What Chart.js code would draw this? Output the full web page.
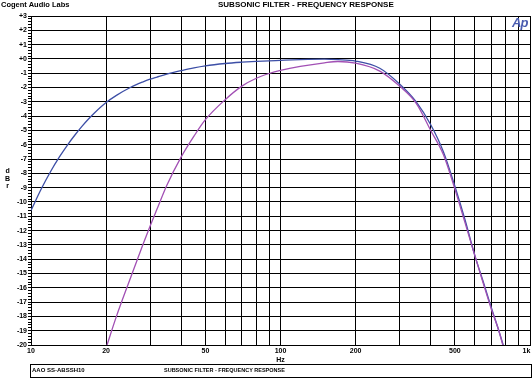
<!DOCTYPE html>
<html>
<head>
<meta charset="utf-8">
<script src="https://cdn.jsdelivr.net/npm/chart.js@4"></script>
<style>
  body { margin: 0; background: #fff; }
  #wrap { position: relative; width: 532px; height: 378px; overflow: hidden; font-family: 'Liberation Sans', Arial, sans-serif; font-weight: bold; color: #000; }
  #myChart { position: absolute; left: 0; top: 0; }
  .txt { position: absolute; white-space: nowrap; }
  #brand { left: 1px; top: 0px; font-size: 7.5px; }
  #title { left: 218px; top: 0px; font-size: 8px; }
  #logo { left: 512px; top: 15px; font-size: 13px; font-style: italic; color: #4a5cb0; letter-spacing: -1px; }
  #dbr { left: 5px; top: 167px; font-size: 7px; line-height: 7.5px; text-align: center; }
  #foot { position: absolute; left: 30px; top: 364px; width: 502px; height: 14px; border: 1px solid #000; box-sizing: border-box; }
  #foot .l { left: 1px; top: 2px; font-size: 6px; }
  #foot .m { left: 133px; top: 2px; font-size: 5.5px; }
</style>
</head>
<body>
<div id="wrap">
  <canvas id="myChart" width="532" height="378"></canvas>
  <div class="txt" id="brand">Cogent Audio Labs</div>
  <div class="txt" id="title">SUBSONIC FILTER - FREQUENCY RESPONSE</div>
  <div class="txt" id="logo">Ap</div>
  <div class="txt" id="dbr">d<br>B<br>r</div>
  <div id="foot">
    <div class="txt l">AAO SS-ABSSH10</div>
    <div class="txt m">SUBSONIC FILTER - FREQUENCY RESPONSE</div>
  </div>
</div>
<script>
const ctx = document.getElementById("myChart").getContext("2d");

// frequencies (Hz)
const freqHz = [10, 11, 12, 13, 14, 15, 16, 17, 18, 20, 22, 25, 28, 30, 32, 35, 40, 45, 50, 60, 70, 80, 100, 120, 150, 170, 200, 250, 300, 350, 400, 450, 500, 550, 600, 650, 700, 750, 800];

// blue trace (dBr)
const blueDb = [-10.6, -9.08, -7.85, -6.85, -6.02, -5.32, -4.72, -4.2, -3.76, -3.05, -2.55, -2.0, -1.62, -1.42, -1.27, -1.07, -0.82, -0.62, -0.48, -0.32, -0.23, -0.17, -0.1, -0.05, -0.02, -0.05, -0.15, -0.65, -1.75, -3.0, -4.6, -6.5, -8.9, -11.3, -13.7, -15.6, -17.4, -19.0, -20.6];

// magenta trace (dBr), starts at 20 Hz
const magentaHz = [20, 22, 25, 28, 30, 32, 35, 40, 45, 50, 60, 70, 80, 90, 100, 120, 150, 170, 200, 250, 300, 350, 400, 450, 500, 550, 600, 650, 700, 750, 800];
const magentaDb = [-20.2, -18.0, -15.35, -13.05, -11.7, -10.5, -8.85, -6.85, -5.4, -4.25, -2.85, -1.9, -1.35, -1.02, -0.8, -0.52, -0.27, -0.18, -0.3, -0.85, -1.9, -3.1, -5.0, -6.7, -9.1, -11.5, -13.7, -15.7, -17.5, -19.0, -20.8];

const xGrid = [10, 20, 30, 40, 50, 60, 70, 80, 90, 100, 200, 300, 400, 500, 600, 700, 800, 900, 1000];
const xLabelValues = [10, 20, 50, 100, 200, 500, 1000];
const xLabelTexts = ['10', '20', '50', '100', '200', '500', '1k\u2002\u2002'];

const yMin = -20;
const yMax = 3;

const data = {
    datasets: [{
        data: magentaHz.map((f, i) => ({x: f, y: magentaDb[i]})),
        borderColor: '#a250b4',
        borderWidth: 1.3,
        pointRadius: 0,
        cubicInterpolationMode: 'monotone',
    }, {
        data: freqHz.map((f, i) => ({x: f, y: blueDb[i]})),
        borderColor: '#3d4fa6',
        borderWidth: 1.3,
        pointRadius: 0,
        cubicInterpolationMode: 'monotone',
    }]
}

const tickFont = {family: "'Liberation Sans Narrow', 'Liberation Sans', Arial", size: 7, weight: 'bold'};

const config = {
    type: 'line',
    data: data,
    options: {
        responsive: false,
        animation: false,
        layout: {padding: {top: 16, left: 0, right: 2, bottom: 14}},
        plugins: {legend: {display: false}, tooltip: {enabled: false}},
        scales: {
            x: {
                type: 'logarithmic',
                min: 10,
                max: 1000,
                afterBuildTicks: (s) => { s.ticks = xGrid.map(v => ({value: v})); },
                afterFit: (s) => { s.height = 19; s.paddingLeft = 0; s.paddingRight = 0; },
                grid: {color: '#000', lineWidth: 1, drawTicks: false},
                border: {color: '#000', width: 1},
                ticks: {
                    autoSkip: false,
                    maxRotation: 0,
                    padding: 2,
                    color: '#000',
                    font: tickFont,
                    callback: (v) => {
                        const i = xLabelValues.indexOf(v);
                        return i >= 0 ? xLabelTexts[i] : '';
                    }
                },
                title: {display: true, text: 'Hz', color: '#000', font: tickFont, padding: 0}
            },
            y: {
                min: yMin,
                max: yMax,
                afterBuildTicks: (s) => {
                    const t = [];
                    for (let k = yMin * 5; k <= yMax * 5; k++) t.push({value: k / 5});
                    s.ticks = t;
                },
                afterFit: (s) => { s.width = 31; s.paddingTop = 0; s.paddingBottom = 0; },
                grid: {
                    color: (c) => Math.abs(c.tick.value - Math.round(c.tick.value)) < 1e-6 ? '#000' : 'rgba(0,0,0,0)',
                    tickColor: '#000',
                    tickLength: 3,
                    lineWidth: 1
                },
                border: {color: '#000', width: 1},
                ticks: {
                    autoSkip: false,
                    padding: 1,
                    color: '#000',
                    font: tickFont,
                    callback: (v) => {
                        if (Math.abs(v - Math.round(v)) > 1e-6) return '';
                        const n = Math.round(v);
                        return n >= 0 ? '+' + n : '' + n;
                    }
                }
            }
        }
    },
};

const myChart = new Chart(ctx, config)
</script>
</body>
</html>
